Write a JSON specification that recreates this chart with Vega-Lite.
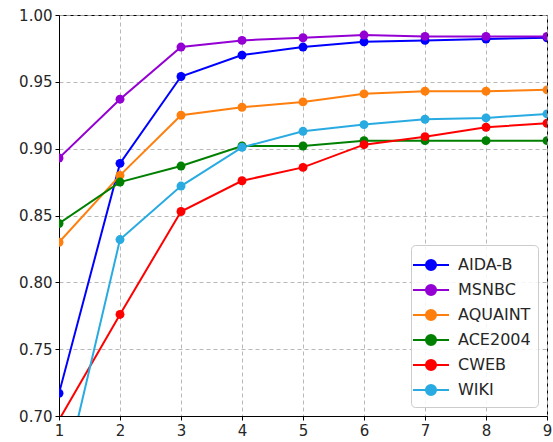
{
  "$schema": "https://vega.github.io/schema/vega-lite/v6.json",
  "width": 488,
  "height": 401,
  "autosize": {"type": "none"},
  "padding": {"left": 59, "top": 15, "right": 6, "bottom": 26},
  "background": "white",
  "config": {
    "view": {"stroke": "black", "strokeWidth": 1},
    "font": "DejaVu Sans",
    "axis": {
      "labelFont": "DejaVu Sans",
      "labelFontSize": 15,
      "labelColor": "#262626",
      "domainColor": "black",
      "tickColor": "black",
      "tickSize": 4,
      "gridColor": "#b0b0b0",
      "gridDash": [4, 3],
      "gridWidth": 0.9,
      "title": null
    }
  },
  "data": {
    "values": [
      {"series": "AIDA-B", "x": 1, "y": 0.717}, {"series": "AIDA-B", "x": 2, "y": 0.889}, {"series": "AIDA-B", "x": 3, "y": 0.954}, {"series": "AIDA-B", "x": 4, "y": 0.970}, {"series": "AIDA-B", "x": 5, "y": 0.976}, {"series": "AIDA-B", "x": 6, "y": 0.980}, {"series": "AIDA-B", "x": 7, "y": 0.981}, {"series": "AIDA-B", "x": 8, "y": 0.982}, {"series": "AIDA-B", "x": 9, "y": 0.983},
      {"series": "MSNBC", "x": 1, "y": 0.893}, {"series": "MSNBC", "x": 2, "y": 0.937}, {"series": "MSNBC", "x": 3, "y": 0.976}, {"series": "MSNBC", "x": 4, "y": 0.981}, {"series": "MSNBC", "x": 5, "y": 0.983}, {"series": "MSNBC", "x": 6, "y": 0.985}, {"series": "MSNBC", "x": 7, "y": 0.984}, {"series": "MSNBC", "x": 8, "y": 0.984}, {"series": "MSNBC", "x": 9, "y": 0.984},
      {"series": "AQUAINT", "x": 1, "y": 0.830}, {"series": "AQUAINT", "x": 2, "y": 0.880}, {"series": "AQUAINT", "x": 3, "y": 0.925}, {"series": "AQUAINT", "x": 4, "y": 0.931}, {"series": "AQUAINT", "x": 5, "y": 0.935}, {"series": "AQUAINT", "x": 6, "y": 0.941}, {"series": "AQUAINT", "x": 7, "y": 0.943}, {"series": "AQUAINT", "x": 8, "y": 0.943}, {"series": "AQUAINT", "x": 9, "y": 0.944},
      {"series": "ACE2004", "x": 1, "y": 0.844}, {"series": "ACE2004", "x": 2, "y": 0.875}, {"series": "ACE2004", "x": 3, "y": 0.887}, {"series": "ACE2004", "x": 4, "y": 0.902}, {"series": "ACE2004", "x": 5, "y": 0.902}, {"series": "ACE2004", "x": 6, "y": 0.906}, {"series": "ACE2004", "x": 7, "y": 0.906}, {"series": "ACE2004", "x": 8, "y": 0.906}, {"series": "ACE2004", "x": 9, "y": 0.906},
      {"series": "CWEB", "x": 1, "y": 0.697}, {"series": "CWEB", "x": 2, "y": 0.776}, {"series": "CWEB", "x": 3, "y": 0.853}, {"series": "CWEB", "x": 4, "y": 0.876}, {"series": "CWEB", "x": 5, "y": 0.886}, {"series": "CWEB", "x": 6, "y": 0.903}, {"series": "CWEB", "x": 7, "y": 0.909}, {"series": "CWEB", "x": 8, "y": 0.916}, {"series": "CWEB", "x": 9, "y": 0.919},
      {"series": "WIKI", "x": 1, "y": 0.638}, {"series": "WIKI", "x": 2, "y": 0.832}, {"series": "WIKI", "x": 3, "y": 0.872}, {"series": "WIKI", "x": 4, "y": 0.901}, {"series": "WIKI", "x": 5, "y": 0.913}, {"series": "WIKI", "x": 6, "y": 0.918}, {"series": "WIKI", "x": 7, "y": 0.922}, {"series": "WIKI", "x": 8, "y": 0.923}, {"series": "WIKI", "x": 9, "y": 0.926}
    ]
  },
  "mark": {"type": "line", "clip": true, "strokeWidth": 2, "point": {"size": 80, "filled": true, "opacity": 1, "clip": true}},
  "encoding": {
    "x": {
      "field": "x", "type": "quantitative",
      "scale": {"domain": [1, 9], "nice": false, "zero": false},
      "axis": {"values": [1, 2, 3, 4, 5, 6, 7, 8, 9], "format": "d", "labelPadding": 3, "labelFlush": false}
    },
    "y": {
      "field": "y", "type": "quantitative",
      "scale": {"domain": [0.7, 1.0], "nice": false, "zero": false},
      "axis": {"values": [0.7, 0.75, 0.8, 0.85, 0.9, 0.95, 1.0], "format": ".2f", "labelPadding": 3, "labelFlush": false}
    },
    "color": {
      "field": "series", "type": "nominal",
      "sort": ["AIDA-B", "MSNBC", "AQUAINT", "ACE2004", "CWEB", "WIKI"],
      "scale": {
        "domain": ["AIDA-B", "MSNBC", "AQUAINT", "ACE2004", "CWEB", "WIKI"],
        "range": ["#0000ff", "#9400d3", "#ff7f0e", "#008000", "#ff0000", "#29abe2"]
      },
      "legend": {
        "title": null,
        "orient": "bottom-right",
        "offset": 9,
        "fillColor": "rgba(255,255,255,0.85)",
        "strokeColor": "#cccccc",
        "cornerRadius": 4,
        "padding": 7,
        "labelFont": "DejaVu Sans",
        "labelFontSize": 16,
        "labelColor": "#262626",
        "labelOffset": 14,
        "rowPadding": 2,
        "symbolType": "M-1.5,0L1.5,0M-0.42,0A0.42,0.42 0 1,1 0.42,0A0.42,0.42 0 1,1 -0.42,0Z",
        "symbolSize": 576,
        "symbolStrokeWidth": 2,
        "encode": {
          "symbols": {"update": {"fill": {"field": "value", "scale": "color"}, "stroke": {"field": "value", "scale": "color"}, "opacity": {"value": 1}}}
        }
      }
    }
  }
}
